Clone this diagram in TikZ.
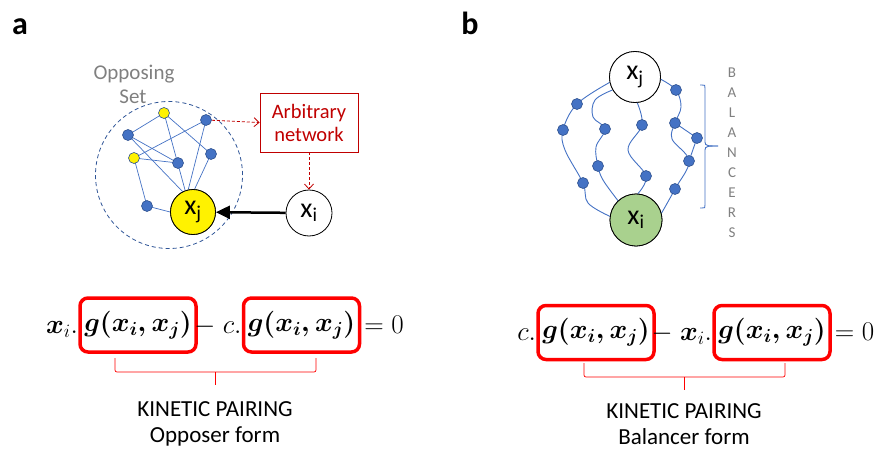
\RequirePackage{fix-cm}
\documentclass[tikz,border=0pt]{standalone}
\usepackage{amsmath,amssymb}
\usepackage{fontspec}
\setmainfont{Carlito}
\usetikzlibrary{arrows.meta}
\definecolor{nodeblue}{HTML}{4472C4}
\definecolor{nodeedge}{HTML}{2F528F}
\definecolor{darkred}{HTML}{C00000}
\definecolor{ringblue}{HTML}{2F5597}
\definecolor{greenfill}{HTML}{A9D18E}
\definecolor{txtgray}{HTML}{808080}
\begin{document}
\begin{tikzpicture}[x=1pt,y=1pt,
  dot/.style={circle,fill=nodeblue,draw=nodeedge,line width=0.6pt,minimum size=11pt,inner sep=0pt},
  ydot/.style={dot,fill=yellow},
  big/.style={circle,draw=black,line width=0.8pt,inner sep=0pt,font=\fontsize{28}{30}\selectfont},
  net/.style={draw=nodeblue,line width=0.7pt},
  wire/.style={draw=nodeblue,line width=0.9pt},
  reddash/.style={draw=darkred,line width=0.8pt,dash pattern=on 3pt off 2pt,-{Straight Barb[length=5pt,width=9pt]}},
  gbox/.style={draw=red,line width=3.5pt,rounded corners=8pt,minimum width=116pt,minimum height=54pt,inner sep=0pt,font=\fontsize{27}{32}\selectfont},
  eqtxt/.style={inner sep=0pt,font=\fontsize{27}{32}\selectfont},
  redbrace/.style={draw=red,line width=0.7pt,rounded corners=2pt},
  caption/.style={anchor=base,inner sep=0pt,font=\fontsize{23}{27}\selectfont},
  panel/.style={anchor=base,inner sep=0pt,font=\fontsize{32}{36}\selectfont\bfseries},
  letter/.style={inner sep=0pt,text=txtgray,font=\fontsize{15}{17}\selectfont},
  graytxt/.style={anchor=base,inner sep=0pt,text=txtgray,font=\fontsize{21}{24}\selectfont}
]
\useasboundingbox (0,0) rectangle (878,451);

% panel labels
\node[panel] (pa) at (20,416) {a};
\node[panel] (pb) at (470,416) {b};

% ---------------- panel a ----------------
\node[graytxt] (opp) at (134,371) {Opposing};
\node[graytxt] (set) at (133,348) {Set};
\node[circle,draw=ringblue,line width=0.8pt,dash pattern=on 4pt off 3pt,minimum size=147pt,inner sep=0pt] (ring) at (169,276) {};

\coordinate (cY1) at (164,338);
\coordinate (cB1) at (206,331);
\coordinate (cB2) at (128,316);
\coordinate (cY2) at (134,293);
\coordinate (cB3) at (178,288);
\coordinate (cB4) at (211,297);
\coordinate (cB5) at (147,245);

\node[big,fill=yellow,minimum size=45pt] (xja) at (193,239) {x\textsubscript{j}};
\node[big,fill=white,minimum size=46pt] (xia) at (309,238) {x\textsubscript{i}};

\draw[net] (cY1) -- (cB2);
\draw[net] (cY1) -- (cB4);
\draw[net] (cY1) -- (xja.110);
\draw[net] (cB2) -- (cB3);
\draw[net] (cB2) -- (xja.117);
\draw[net] (cY2) -- (cB1);
\draw[net] (cY2) -- (cB3);
\draw[net] (cY2) -- (cB5);
\draw[net] (cB5) -- (xja.west);
\draw[net] (cB1) -- (xja.102);
\draw[net] (cB4) -- (xja.86);

\node[ydot] (Y1) at (cY1) {};
\node[dot] (B1) at (cB1) {};
\node[dot] (B2) at (cB2) {};
\node[ydot] (Y2) at (cY2) {};
\node[dot] (B3) at (cB3) {};
\node[dot] (B4) at (cB4) {};
\node[dot] (B5) at (cB5) {};
\node[big,fill=yellow,minimum size=45pt] at (193,239) {x\textsubscript{j}};

\node[draw=darkred,line width=0.8pt,text=darkred,minimum width=98pt,minimum height=59pt,inner sep=0pt,align=center,font=\fontsize{20.5}{23}\selectfont] (arb) at (309,328.5) {Arbitrary\\network};

\draw[reddash] (B1) -- (arb.west);
\draw[reddash] (arb.south) -- (xia);
\draw[line width=2.5pt,-{Triangle[length=14pt,width=13pt]}] (xia) -- (xja);

% equation a
\node[gbox] (ga1) at (138,126) {$\boldsymbol{g(x_i,x_j)}$};
\node[gbox] (ga2) at (301.5,126) {$\boldsymbol{g(x_i,x_j)}$};
\node[eqtxt,anchor=base east] (ea1) at (ga1.west |- 0,118) {$\boldsymbol{x}_i.$};
\node[eqtxt,anchor=base east] (ea2) at (ga2.west |- 0,118) {$-\;c.$};
\node[eqtxt,anchor=base west] (ea3) at ([xshift=3pt]ga2.east |- 0,118) {$=0$};
\draw[redbrace] (115,93) -- (115,79) -- (316,79) -- (316,93);
\draw[redbrace] (215,79) -- (215,66);
\node[caption] (ka) at (215,35) {KINETIC PAIRING};
\node[caption] (fa) at (215,9) {Opposer form};

% ---------------- panel b ----------------
\node[big,fill=white,minimum size=51pt] (xjb) at (635,374) {x\textsubscript{j}};
\node[big,fill=greenfill,minimum size=52pt] (xib) at (636,231) {x\textsubscript{i}};

\coordinate (n1) at (577,347);
\coordinate (n2) at (563,321);
\coordinate (n3) at (583,268);
\coordinate (n4) at (605,322);
\coordinate (n5) at (598,285);
\coordinate (n6) at (642,326);
\coordinate (n7) at (646,275);
\coordinate (n8) at (676,361);
\coordinate (n9) at (675,328);
\coordinate (n10) at (697,313);
\coordinate (n11) at (689,290);
\coordinate (n12) at (675,262);

\draw[wire] plot[smooth,tension=0.6] coordinates {(xjb.192) (n1) (n2) (565,301) (n3) (588,248) (xib.172)};
\draw[wire] plot[smooth,tension=0.6] coordinates {(xjb.210) (595,351) (593,334) (n4) (596,304) (n5) (603,271) (xib.133)};
\draw[wire] plot[smooth,tension=0.6] coordinates {(xjb.275) (n6) (628,301) (n7) (xib.86)};
\draw[wire] plot[smooth,tension=0.6] coordinates {(xjb.355) (n8) (681,344) (n9) (672,312) (n11) (n12) (xib.15)};
\draw[wire] (n9) -- (n10) -- (n11);

\foreach \n in {n1,n2,n3,n4,n5,n6,n7,n8,n9,n10,n11,n12}{\node[dot] (d\n) at (\n) {};}
\node[big,fill=white,minimum size=51pt] at (635,374) {x\textsubscript{j}};
\node[big,fill=greenfill,minimum size=52pt] at (636,231) {x\textsubscript{i}};

\draw[wire] (700,366) -- (702,366) .. controls (705,366) .. (705,363) -- (705,309) .. controls (705,305) and (708,305) .. (718,305);
\draw[wire] (700,243) -- (702,243) .. controls (705,243) .. (705,246) -- (705,301) .. controls (705,305) and (708,305) .. (718,305);

\foreach \l [count=\k from 0] in {B,A,L,A,N,C,E,R,S}{\node[letter] (L\k) at (732,{378-19.9*\k}) {\l};}

% equation b
\node[gbox] (gb1) at (596,118.5) {$\boldsymbol{g(x_i,x_j)}$};
\node[gbox] (gb2) at (772,118.5) {$\boldsymbol{g(x_i,x_j)}$};
\node[eqtxt,anchor=base east] (eb1) at (gb1.west |- 0,111) {$c.$};
\node[eqtxt,anchor=base east] (eb2) at (gb2.west |- 0,111) {$-\;\boldsymbol{x}_i.$};
\node[eqtxt,anchor=base west] (eb3) at ([xshift=3pt]gb2.east |- 0,111) {$=0$};
\draw[redbrace] (584,88) -- (584,74) -- (785,74) -- (785,88);
\draw[redbrace] (684,74) -- (684,61);
\node[caption] (kb) at (684,33) {KINETIC PAIRING};
\node[caption] (fb) at (684,7) {Balancer form};
\end{tikzpicture}
\end{document}
